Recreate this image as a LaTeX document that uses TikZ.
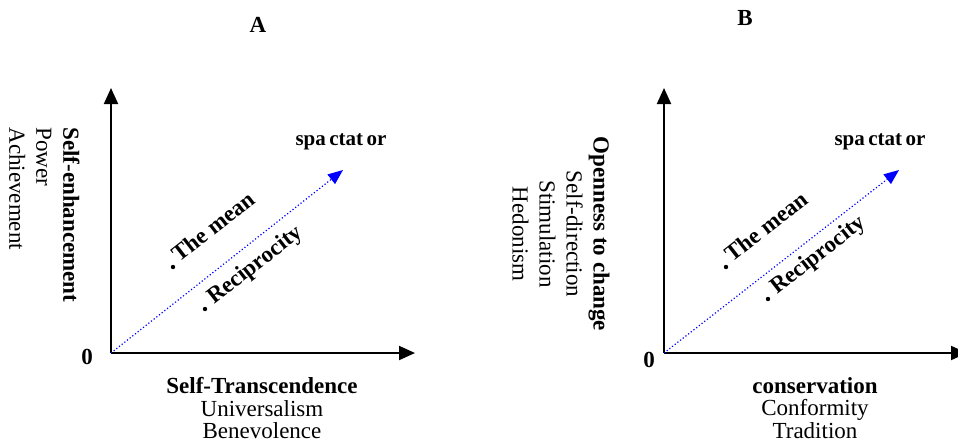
\documentclass[tikz,border=0pt]{standalone}
\usepackage{fontspec}
\setmainfont{Liberation Serif}
\usetikzlibrary{arrows.meta}

\begin{document}
\begin{tikzpicture}[x=0.5pt, y=-0.5pt,
    axis/.style={-{Triangle[length=8pt, width=7pt]}, line width=1pt},
    trend/.style={-{Triangle[length=7.5pt, width=6pt]}, blue, line width=0.6pt, dash pattern=on 0.6pt off 1.1pt},
    heading/.style={inner sep=0, font=\fontsize{11.5}{13}\selectfont\bfseries},
    goal/.style={inner sep=0, font=\fontsize{10.5}{12}\selectfont\bfseries},
    xlab/.style={anchor=north, inner sep=0, align=center, font=\fontsize{11.5}{11.25}\selectfont},
    ylab/.style={inner sep=0, rotate=-90, font=\fontsize{11.5}{13.5}\selectfont},
    point/.style={circle, fill, inner sep=0, minimum size=2.2pt},
    tag/.style={anchor=base west, inner sep=0, rotate=38, font=\fontsize{11.5}{13}\selectfont\bfseries}
]
    \clip (0,0) rectangle (958,441);

    % Panel A
    \node[heading] (titleA) at (258,25) {A};
    \coordinate (oA) at (111,353);
    \coordinate (yA) at (111,88);
    \coordinate (xA) at (415,353);
    \coordinate (sA) at (343,170);
    \draw[axis] (oA) -- (yA);
    \draw[axis] (oA) -- (xA);
    \draw[trend] (oA) -- (sA);
    \node[heading] (zeroA) at (87,357) {0};
    \node[goal] (specA) at (341,142) {spa\,ctat\,or};
    \node[xlab] (horA) at (262,377) {\textbf{Self-Transcendence}\\Universalism\\Benevolence};
    \node[ylab, anchor=north west, align=left] (verA) at (80,127) {\textbf{Self-enhancement}\\Power\\Achievement};
    \node[point] (meanA) at (173,267) {};
    \node[tag] (meanlabA) at ([shift={(6,-4)}]meanA) {The mean};
    \node[point] (recA) at (205,309) {};
    \node[tag] (reclabA) at ([shift={(9,-4)}]recA) {Reciprocity};

    % Panel B
    \node[heading] (titleB) at (745,18) {B};
    \coordinate (oB) at (664,353);
    \coordinate (yB) at (664,88);
    \coordinate (xB) at (967,353);
    \coordinate (sB) at (899,170);
    \draw[axis] (oB) -- (yB);
    \draw[axis] (oB) -- (xB);
    \draw[trend] (oB) -- (sB);
    \node[heading] (zeroB) at (649,360) {0};
    \node[goal] (specB) at (880,142) {spa\,ctat\,or};
    \node[xlab] (horB) at (815,377) {\textbf{conservation}\\Conformity\\Tradition};
    \node[ylab, anchor=north, align=center] (verB) at (610,234) {\textbf{Openness to change}\\Self-direction\\Stimulation\\Hedonism};
    \node[point] (meanB) at (726,267) {};
    \node[tag] (meanlabB) at ([shift={(6,-4)}]meanB) {The mean};
    \node[point] (recB) at (768,299) {};
    \node[tag] (reclabB) at ([shift={(9,-4)}]recB) {Reciprocity};
\end{tikzpicture}
\end{document}
